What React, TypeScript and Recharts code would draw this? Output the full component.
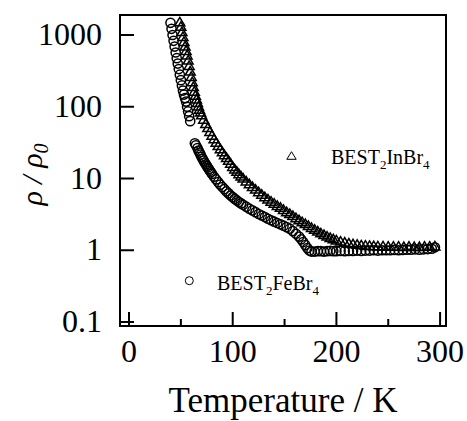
import { Label, Legend, ReferenceArea, Scatter, ScatterChart, XAxis, YAxis } from "recharts";

// [temperature (K), rho/rho0]
const feBr4: [number, number][] = [
  [40, 1480], [41, 1220], [42, 1000], [43, 830], [44, 690], [45, 570], [46, 475], [47, 400],
  [48, 335], [49, 280], [50, 235], [51, 198], [52, 168], [53, 148], [54, 132], [55, 118],
  [56, 100], [57, 86], [58, 74], [59, 63],
  [63.5, 31], [64.5, 29], [66, 26.5], [67, 24.5], [68, 23], [69, 21.5], [70, 20], [71, 18.8],
  [72, 17.7], [73, 16.7], [74, 15.8], [75, 15], [76, 14.2], [77, 13.5], [78, 12.8], [79, 12.2],
  [80, 11.6], [82, 10.6], [84, 9.7], [86, 8.9], [88, 8.2], [90, 7.6], [92, 7.1], [94, 6.6],
  [96, 6.2], [98, 5.8], [100, 5.5], [102, 5.2], [104, 4.95], [106, 4.7], [108, 4.5], [110, 4.3],
  [113, 4.05], [116, 3.8], [119, 3.6], [122, 3.4], [125, 3.2], [128, 3.05], [131, 2.9], [134, 2.75],
  [137, 2.62], [140, 2.5], [143, 2.4], [146, 2.3], [149, 2.2], [152, 2.1], [155, 2.0], [158, 1.85],
  [161, 1.7], [164, 1.55], [166, 1.42], [168, 1.3], [170, 1.18], [172, 1.07], [174, 0.99], [176, 0.96],
  [179, 0.96], [182, 0.97], [185, 0.97], [188, 0.96], [191, 0.97], [194, 0.98], [197, 0.97], [200, 0.97],
  [204, 0.98], [208, 0.97], [212, 0.98], [216, 0.98], [220, 0.99], [224, 0.98], [228, 0.99], [232, 0.99],
  [236, 1.0], [240, 0.99], [244, 1.0], [248, 1.0], [252, 1.0], [256, 1.01], [260, 1.0], [264, 1.01],
  [268, 1.02], [272, 1.02], [276, 1.03], [280, 1.02], [284, 1.03], [288, 1.04], [292, 1.05], [295, 1.1],
];

const inBr4: [number, number][] = [
  [49, 1500], [50, 1300], [51, 1100], [52, 940], [53, 800], [54, 690], [55, 600], [56, 520],
  [57, 440], [58, 370], [59, 310], [60, 260], [61, 220], [62, 188], [63, 162], [64, 142],
  [65, 126], [66, 113], [67, 101], [68, 91], [69, 83], [70, 76], [72, 66], [74, 57.5],
  [76, 50.5], [78, 44.5], [80, 39.5], [82, 35.2], [84, 31.5], [86, 28.3], [88, 25.5], [90, 23.2],
  [92, 21.1], [94, 19.3], [96, 17.7], [98, 16.1], [100, 14.5], [102, 13.4], [104, 12.4], [106, 11.5],
  [108, 10.7], [110, 10.0], [113, 9.1], [116, 8.3], [119, 7.6], [122, 7.0], [125, 6.45], [128, 5.95],
  [131, 5.5], [134, 5.1], [137, 4.75], [140, 4.45], [143, 4.15], [146, 3.9], [149, 3.65], [152, 3.4],
  [155, 3.2], [158, 3.0], [161, 2.8], [164, 2.62], [167, 2.46], [170, 2.32], [173, 2.18], [176, 2.05],
  [179, 1.93], [182, 1.82], [185, 1.72], [188, 1.63], [191, 1.55], [194, 1.48], [197, 1.42], [200, 1.37],
  [204, 1.32], [208, 1.28], [212, 1.24], [216, 1.21], [220, 1.19], [224, 1.17], [228, 1.16], [232, 1.15],
  [236, 1.14], [240, 1.13], [245, 1.13], [250, 1.12], [255, 1.12], [260, 1.12], [265, 1.11], [270, 1.12],
  [275, 1.11], [280, 1.11], [285, 1.12], [290, 1.12], [295, 1.13],
];

const xTicks = [0, 50, 100, 150, 200, 250, 300];
const yTicks = [0.1, 1, 10, 100, 1000];
const xDomain = [-8.7, 305.7];
const yDomain = [0.088, 1900];

const serif = "Liberation Serif";

const toRows = (pts: [number, number][]) => pts.map(([t, rho]) => ({ t, rho }));

function XTick(props: any) {
  const { x, y, payload } = props;
  const major = payload.value % 100 === 0;
  return (
    <g>
      <line x1={x} x2={x} y1={y} y2={y - (major ? 14 : 7)} stroke="#000" strokeWidth={2} />
      {major && (
        <text x={x} y={y + 36} textAnchor="middle" fontFamily={serif} fontSize={32} fill="#000">
          {payload.value}
        </text>
      )}
    </g>
  );
}

function YTick(props: any) {
  const { x, y, payload } = props;
  return (
    <g>
      <line x1={x} x2={x + 14} y1={y} y2={y} stroke="#000" strokeWidth={2} />
      <text x={x - 18} y={y + 10} textAnchor="end" fontFamily={serif} fontSize={32} fill="#000">
        {String(payload.value)}
      </text>
    </g>
  );
}

function CircleMark(p: any) {
  return <circle cx={p.cx} cy={p.cy} r={4.6} fill="none" stroke="#000" strokeWidth={1.5} />;
}

function TriMark(p: any) {
  const { cx, cy } = p;
  const pts = `${cx},${cy - 5} ${cx - 5},${cy + 3.5} ${cx + 5},${cy + 3.5}`;
  return <polygon points={pts} fill="none" stroke="#000" strokeWidth={1.5} />;
}

function LegendBox() {
  return (
    <svg width={467} height={421} style={{ display: "block" }}>
      <polygon points="291.5,151.7 286.8,159.3 296.2,159.3" fill="none" stroke="#000" strokeWidth={1} />
      <text x={331} y={164} fontFamily={serif} fontSize={20} fill="#000">
        BEST<tspan dy={5} fontSize={13}>2</tspan>
        <tspan dy={-5}>InBr</tspan>
        <tspan dy={5} fontSize={13}>4</tspan>
      </text>
      <circle cx={189.3} cy={280.7} r={4} fill="none" stroke="#000" strokeWidth={1} />
      <text x={217} y={290} fontFamily={serif} fontSize={20} fill="#000">
        BEST<tspan dy={5} fontSize={13}>2</tspan>
        <tspan dy={-5}>FeBr</tspan>
        <tspan dy={5} fontSize={13}>4</tspan>
      </text>
    </svg>
  );
}

function YTitle(props: any) {
  const vb = props.viewBox || { y: 15, height: 311 };
  const cy = vb.y + vb.height / 2 + 4;
  return (
    <text
      x={42}
      y={cy}
      transform={`rotate(-90, 42, ${cy})`}
      textAnchor="middle"
      fontFamily={serif}
      fontStyle="italic"
      fontSize={30}
      fill="#000"
    >
      ρ / ρ<tspan dy={6} fontSize={20}>0</tspan>
    </text>
  );
}

function XTitle(props: any) {
  const vb = props.viewBox || { x: 120, y: 326, width: 326 };
  return (
    <text x={vb.x + vb.width / 2} y={vb.y + 86} textAnchor="middle" fontFamily={serif} fontSize={35} fill="#000">
      Temperature / K
    </text>
  );
}

export default function App() {
  return (
    <div style={{ position: "absolute", left: 0, top: 0, background: "#fff" }}>
      <ScatterChart width={467} height={421} margin={{ top: 15, right: 21, bottom: 0, left: 0 }}>
        <XAxis
          type="number"
          dataKey="t"
          domain={xDomain}
          ticks={xTicks}
          interval={0}
          allowDataOverflow
          height={95}
          axisLine={false}
          tickLine={false}
          tickSize={0}
          tickMargin={0}
          tick={<XTick />}
        >
          <Label content={<XTitle />} />
        </XAxis>
        <YAxis
          type="number"
          dataKey="rho"
          scale="log"
          domain={yDomain}
          ticks={yTicks}
          interval={0}
          allowDataOverflow
          width={120}
          axisLine={false}
          tickLine={false}
          tickSize={0}
          tickMargin={0}
          tick={<YTick />}
        >
          <Label content={<YTitle />} />
        </YAxis>
        <ReferenceArea
          x1={xDomain[0]}
          x2={xDomain[1]}
          y1={yDomain[0]}
          y2={yDomain[1]}
          fill="none"
          fillOpacity={0}
          stroke="#000"
          strokeWidth={2}
          ifOverflow="visible"
        />
        <Scatter name="BEST2InBr4" data={toRows(inBr4)} shape={<TriMark />} isAnimationActive={false} />
        <Scatter name="BEST2FeBr4" data={toRows(feBr4)} shape={<CircleMark />} isAnimationActive={false} />
        <Legend
          layout="horizontal"
          verticalAlign="middle"
          align="center"
          wrapperStyle={{ left: 0, top: 0, width: 467, height: 421, pointerEvents: "none" }}
          content={<LegendBox />}
        />
      </ScatterChart>
    </div>
  );
}
